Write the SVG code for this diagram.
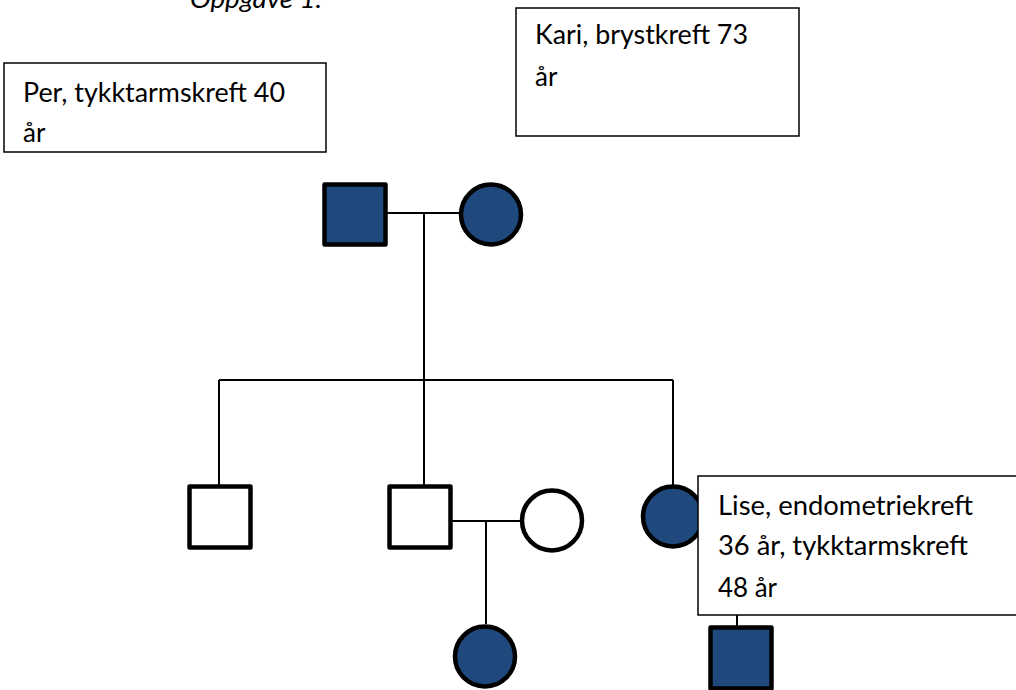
<svg xmlns="http://www.w3.org/2000/svg" width="1016" height="690" viewBox="0 0 1016 690">
<style>
.bg{fill:#ffffff}
.box{fill:#ffffff;stroke:#000000;stroke-width:1.5}
.t{font-family:Lato,"Open Sans","Liberation Sans",sans-serif;font-size:26px;fill:#000000}
.ti{font-family:Lato,"Open Sans","Liberation Sans",sans-serif;font-size:26px;font-style:italic;fill:#000000}
.aff{fill:#1f497d;stroke:#000000;stroke-width:4.5;stroke-linejoin:round}
.un{fill:#ffffff;stroke:#000000;stroke-width:4.5;stroke-linejoin:round}
.ln{stroke:#000000;stroke-width:2;fill:none}
</style>
<rect class="bg" x="0" y="0" width="1016" height="690"/>
<text class="ti" x="190" y="8" textLength="132" lengthAdjust="spacingAndGlyphs">Oppgave 1.</text>
<g id="connectors">
<line class="ln" x1="387" y1="213" x2="459" y2="213"/>
<line class="ln" x1="424" y1="213" x2="424" y2="380"/>
<line class="ln" x1="219" y1="380" x2="673" y2="380"/>
<line class="ln" x1="219" y1="380" x2="219" y2="485"/>
<line class="ln" x1="424" y1="380" x2="424" y2="485"/>
<line class="ln" x1="673" y1="380" x2="673" y2="485"/>
<line class="ln" x1="452" y1="521" x2="520" y2="521"/>
<line class="ln" x1="486" y1="521" x2="486" y2="624"/>
<line class="ln" x1="737" y1="610" x2="737" y2="626"/>
</g>
<g id="per">
<rect class="aff" x="324.5" y="184.5" width="61" height="60"/>
</g>
<g id="kari">
<circle class="aff" cx="491" cy="214.5" r="30"/>
</g>
<g id="son1">
<rect class="un" x="189.5" y="486.5" width="61" height="61"/>
</g>
<g id="son2">
<rect class="un" x="389.5" y="486.5" width="61" height="61"/>
</g>
<g id="wife">
<circle class="un" cx="552" cy="520.5" r="30"/>
</g>
<g id="lise">
<circle class="aff" cx="673" cy="516.5" r="30"/>
</g>
<g id="granddaughter">
<circle class="aff" cx="485" cy="656.5" r="30"/>
</g>
<g id="grandson">
<rect class="aff" x="710.5" y="627.5" width="61" height="61"/>
</g>
<g id="label-per">
<rect class="box" x="4" y="63" width="322" height="89"/>
<text class="t" x="23" y="102" textLength="262" lengthAdjust="spacingAndGlyphs">Per, tykktarmskreft 40</text>
<text class="t" x="23" y="142">år</text>
</g>
<g id="label-kari">
<rect class="box" x="516" y="8" width="283" height="128"/>
<text class="t" x="535" y="44" textLength="213" lengthAdjust="spacingAndGlyphs">Kari, brystkreft 73</text>
<text class="t" x="535" y="86">år</text>
</g>
<g id="label-lise">
<rect class="box" x="698" y="476" width="330" height="139"/>
<text class="t" x="718" y="515" textLength="255" lengthAdjust="spacingAndGlyphs">Lise, endometriekreft</text>
<text class="t" x="718" y="555" textLength="250" lengthAdjust="spacingAndGlyphs">36 år, tykktarmskreft</text>
<text class="t" x="718" y="597" textLength="59" lengthAdjust="spacingAndGlyphs">48 år</text>
</g>
</svg>
